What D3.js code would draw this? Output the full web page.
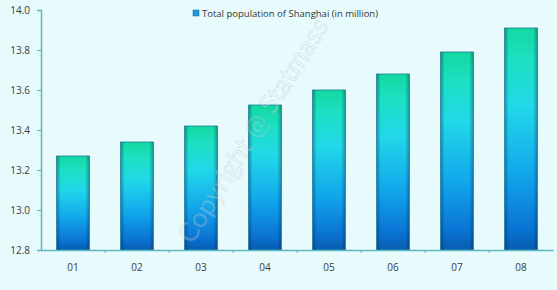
<!DOCTYPE html>
<html><head><meta charset="utf-8">
<script src="https://cdn.jsdelivr.net/npm/d3@7/dist/d3.min.js"></script>
<style>body{margin:0;background:#e8fbfc;}svg{display:block;}</style>
</head><body>
<svg id="c" width="557" height="290"></svg>
<script>
const categories = ["01","02","03","04","05","06","07","08"];
const values = [13.27, 13.34, 13.42, 13.525, 13.60, 13.68, 13.79, 13.91];
const yTicks = [12.8, 13.0, 13.2, 13.4, 13.6, 13.8, 14.0];
const seriesName = "Total population of Shanghai (in million)";

const svg = d3.select("#c");
const W = 557, H = 290;
const m = {left: 41, right: 4, top: 10, bottom: 40};
svg.append("rect").attr("width", W).attr("height", H).attr("fill", "#e8fbfc");

const x = d3.scaleBand().domain(categories).range([m.left, W - m.right]).paddingInner(0.49).paddingOuter(0.245);
const y = d3.scaleLinear().domain([12.8, 14.0]).range([H - m.bottom, m.top]);

const defs = svg.append("defs");
const g = defs.append("linearGradient").attr("id", "bg").attr("x1", 0).attr("y1", 0).attr("x2", 0).attr("y2", 1);
[[0, "#14d8a0"], [0.15, "#1ce0c4"], [0.35, "#22d8e8"], [0.65, "#12a8ec"], [0.9, "#0a74d4"], [1, "#085cb0"]]
  .forEach(([o, c]) => g.append("stop").attr("offset", o).attr("stop-color", c));
const hg = defs.append("linearGradient").attr("id", "hg").attr("x1", 0).attr("y1", 0).attr("x2", 1).attr("y2", 0);
[[0, "rgba(0,40,80,0.35)"], [0.12, "rgba(0,0,0,0)"], [0.88, "rgba(0,0,0,0)"], [1, "rgba(0,40,80,0.35)"]]
  .forEach(([o, c]) => hg.append("stop").attr("offset", o).attr("stop-color", c));

const bars = svg.append("g");
bars.selectAll("rect.b").data(values).join("rect").attr("class", "b")
  .attr("x", (d, i) => x(categories[i])).attr("width", x.bandwidth())
  .attr("y", d => y(d)).attr("height", d => y(12.8) - y(d))
  .attr("fill", "url(#bg)").attr("stroke", "#1a7aa0").attr("stroke-width", 0.8);
bars.selectAll("rect.h").data(values).join("rect").attr("class", "h")
  .attr("x", (d, i) => x(categories[i])).attr("width", x.bandwidth())
  .attr("y", d => y(d)).attr("height", d => y(12.8) - y(d))
  .attr("fill", "url(#hg)");

// watermark
svg.append("text").attr("transform", "translate(255,132) rotate(-58)")
  .attr("text-anchor", "middle").attr("dominant-baseline", "middle")
  .attr("font-family", "Lato, 'Open Sans', sans-serif").attr("font-size", 27)
  .attr("fill", "rgba(255,255,255,0.22)").attr("stroke", "rgba(110,130,140,0.22)").attr("stroke-width", 0.8)
  .text("Copyright @ Statmass");

// y axis
const ya = svg.append("g").attr("transform", `translate(${m.left},0)`)
  .call(d3.axisLeft(y).tickValues(yTicks).tickFormat(d3.format(".1f")).tickSize(4));
ya.select(".domain").attr("stroke", "#5cb8c0").attr("stroke-width", 1.5);
ya.selectAll(".tick line").attr("stroke", "#5cb8c0");
ya.selectAll("text").attr("font-family", "'Open Sans', sans-serif").attr("font-size", 10).attr("fill", "#3a3a3a").attr("dx", -4);

// x axis
const xa = svg.append("g").attr("transform", `translate(0,${H - m.bottom})`)
  .call(d3.axisBottom(x).tickSize(0).tickPadding(14));
xa.select(".domain").attr("stroke", "#5cb8c0").attr("stroke-width", 1.5);
xa.selectAll("text").attr("font-family", "'Open Sans', sans-serif").attr("font-size", 10).attr("fill", "#3a3a3a");
const step = x.step();
xa.selectAll("line.sep").data(categories.slice(1)).join("line").attr("class", "sep")
  .attr("x1", d => x(d) - x.paddingInner() * step / 2).attr("x2", d => x(d) - x.paddingInner() * step / 2)
  .attr("y1", 0).attr("y2", 3).attr("stroke", "#5cb8c0");

// legend
const lg = svg.append("g").attr("transform", "translate(193,14)");
lg.append("rect").attr("x", 0).attr("y", -4).attr("width", 6).attr("height", 6).attr("fill", "#1a9ad8").attr("stroke", "#0a6aa0").attr("stroke-width", 0.5);
lg.append("text").attr("x", 9).attr("y", 0).attr("dominant-baseline", "middle")
  .attr("font-family", "'Open Sans', sans-serif").attr("font-size", 9.5).attr("fill", "#333").text(seriesName);
</script>
</body></html>
